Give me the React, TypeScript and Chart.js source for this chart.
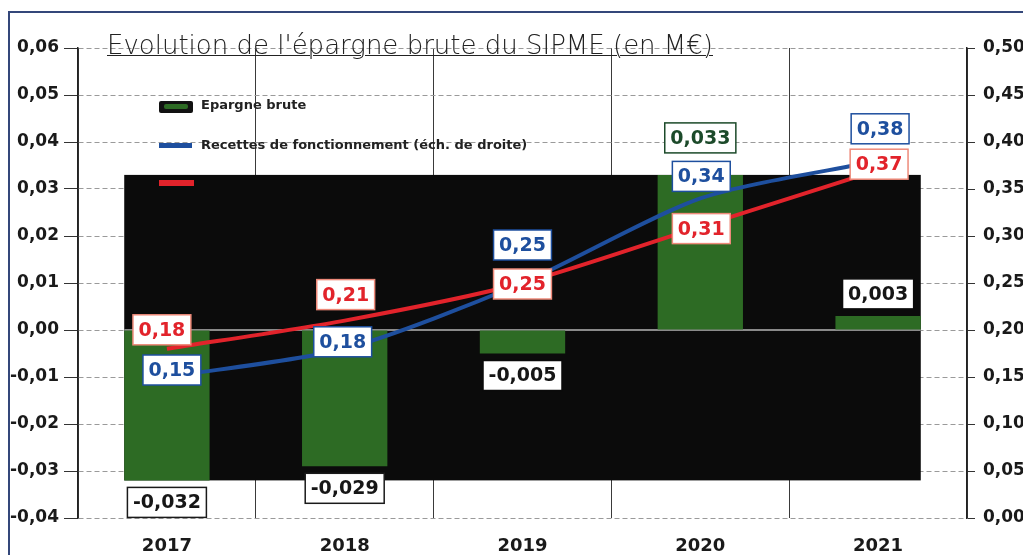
import React, { useEffect, useRef } from 'react';
import { Chart, registerables } from 'chart.js';

Chart.register(...registerables);

// ---- data ----
const years = ['2017', '2018', '2019', '2020', '2021'];
const epargneBrute = [-0.032, -0.029, -0.005, 0.033, 0.003];
const recettesFonctionnement = [0.15, 0.18, 0.25, 0.34, 0.38];
const serieRouge = [0.18, 0.21, 0.25, 0.31, 0.37];

const leftAxis = { min: -0.04, max: 0.06, step: 0.01 };
const rightAxis = { min: 0, max: 0.5, step: 0.05 };

const titleText = "Evolution de l'épargne brute du SIPME (en M€)";
const legendLabels = ['Epargne brute', 'Recettes de fonctionnement (éch. de droite)', ''];

// ---- layout / style of value labels (pixel nudges, not data) ----
const barLabelGap = [7, 7, 7, 22, 7];
const barLabelText = ['#161616', '#161616', '#161616', '#1c4a2a', '#161616'];
const barLabelBorder = ['#1a1a1a', '#1a1a1a', '#0b0b0b', '#1c4a2a', '#0b0b0b'];
const blueLabelShift: [number, number][] = [[5, -7], [-2, -7], [0, -38], [1, -22], [2, -32]];
const redLabelShift: [number, number][] = [[-5, -19], [1, -26], [0, 1], [1, 2], [1, -6]];

const GREEN = '#2d6b24';
const BLUE = '#1e4f9e';
const RED = '#e2232b';
const NUM_FONT = '"DejaVu Sans", Verdana, sans-serif';

const fmt = (v: number, d: number) => v.toFixed(d).replace('.', ',');

function drawValueBox(ctx: CanvasRenderingContext2D, cx: number, cy: number, text: string, color: string, border: string) {
  ctx.save();
  ctx.font = `bold 19px ${NUM_FONT}`;
  const w = ctx.measureText(text).width + 11;
  const h = 30;
  ctx.fillStyle = '#ffffff';
  ctx.fillRect(cx - w / 2, cy - h / 2, w, h);
  ctx.strokeStyle = border;
  ctx.lineWidth = 1.5;
  ctx.strokeRect(cx - w / 2, cy - h / 2, w, h);
  ctx.fillStyle = color;
  ctx.textAlign = 'center';
  ctx.textBaseline = 'middle';
  ctx.fillText(text, cx, cy + 1);
  ctx.restore();
}

const blackBoxPlugin = {
  id: 'blackBox',
  beforeDatasetsDraw(chart: any) {
    const ctx = chart.ctx as CanvasRenderingContext2D;
    const bars = chart.getDatasetMeta(0).data as any[];
    const ys = chart.scales.y;
    const left = Math.min(...bars.map((b) => b.x - b.width / 2));
    const right = Math.max(...bars.map((b) => b.x + b.width / 2));
    const top = ys.getPixelForValue(Math.max(...epargneBrute));
    const bottom = ys.getPixelForValue(Math.min(...epargneBrute));
    ctx.save();
    ctx.fillStyle = '#0b0b0b';
    ctx.fillRect(left, top, right - left, bottom - top);
    const y0 = ys.getPixelForValue(0);
    ctx.strokeStyle = '#8a8a8a';
    ctx.lineWidth = 2;
    ctx.beginPath();
    ctx.moveTo(left, y0);
    ctx.lineTo(right, y0);
    ctx.stroke();
    ctx.restore();
  },
};

const valueLabelPlugin = {
  id: 'valueLabels',
  afterDatasetsDraw(chart: any) {
    const ctx = chart.ctx as CanvasRenderingContext2D;
    const ys = chart.scales.y;
    const bars = chart.getDatasetMeta(0).data as any[];
    bars.forEach((b, i) => {
      const v = epargneBrute[i];
      const py = ys.getPixelForValue(v);
      const cy = v < 0 ? py + barLabelGap[i] + 15 : py - barLabelGap[i] - 15;
      drawValueBox(ctx, b.x, cy, fmt(v, 3), barLabelText[i], barLabelBorder[i]);
    });
    const red = chart.getDatasetMeta(2).data as any[];
    red.forEach((p, i) => {
      drawValueBox(ctx, p.x + redLabelShift[i][0], p.y + redLabelShift[i][1], fmt(serieRouge[i], 2), RED, '#ee8a7a');
    });
    const blue = chart.getDatasetMeta(1).data as any[];
    blue.forEach((p, i) => {
      drawValueBox(ctx, p.x + blueLabelShift[i][0], p.y + blueLabelShift[i][1], fmt(recettesFonctionnement[i], 2), BLUE, BLUE);
    });
  },
};

export default function App() {
  const canvasRef = useRef<HTMLCanvasElement | null>(null);

  useEffect(() => {
    if (!canvasRef.current) return;
    const tickFont = { family: NUM_FONT, weight: 'bold' as const, size: 17 };
    const chart = new Chart(canvasRef.current, {
      type: 'bar',
      data: {
        labels: years,
        datasets: [
          {
            type: 'bar',
            label: legendLabels[0],
            data: epargneBrute,
            yAxisID: 'y',
            backgroundColor: GREEN,
            barPercentage: 0.48,
            categoryPercentage: 1,
            order: 3,
          },
          {
            type: 'line',
            label: legendLabels[1],
            data: recettesFonctionnement,
            yAxisID: 'y1',
            borderColor: BLUE,
            borderWidth: 4,
            pointRadius: 0,
            tension: 0.25,
            order: 1,
          },
          {
            type: 'line',
            label: legendLabels[2],
            data: serieRouge,
            yAxisID: 'y1',
            borderColor: RED,
            borderWidth: 4,
            pointRadius: 0,
            tension: 0.25,
            order: 2,
          },
        ] as any,
      },
      options: {
        animation: false,
        responsive: false,
        devicePixelRatio: 1,
        layout: { padding: { top: 48, left: 0, right: 0, bottom: 0 } },
        plugins: {
          legend: { display: false },
          tooltip: { enabled: false },
          title: { display: false },
        },
        scales: {
          x: {
            grid: { offset: true, color: '#3a3a3a', lineWidth: 1, drawTicks: false },
            border: { display: false },
            ticks: { font: { family: NUM_FONT, weight: 'bold', size: 18 }, color: '#1a1a1a', padding: 18 },
            afterFit: (s: any) => { s.height = 37; },
          },
          y: {
            position: 'left',
            min: leftAxis.min,
            max: leftAxis.max,
            ticks: {
              stepSize: leftAxis.step,
              callback: (v: any) => fmt(Number(v), 2),
              font: tickFont,
              color: '#1a1a1a',
              padding: 5,
            },
            grid: { color: '#9a9a9a', lineWidth: 1, tickLength: 14, tickColor: '#333', tickBorderDash: [] },
            border: { display: true, color: '#222', width: 1.5, dash: [5, 3] },
            afterFit: (s: any) => { s.width = 78; },
          },
          y1: {
            position: 'right',
            min: rightAxis.min,
            max: rightAxis.max,
            ticks: {
              stepSize: rightAxis.step,
              callback: (v: any) => fmt(Number(v), 2),
              font: tickFont,
              color: '#1a1a1a',
              padding: 8,
            },
            grid: { drawOnChartArea: false, tickLength: 8, tickColor: '#333' },
            border: { display: true, color: '#222', width: 1.5 },
            afterFit: (s: any) => { s.width = 56; },
          },
        } as any,
      },
      plugins: [blackBoxPlugin, valueLabelPlugin],
    });
    return () => chart.destroy();
  }, []);

  const legendText: React.CSSProperties = {
    position: 'absolute',
    left: 201,
    font: `bold 13px ${NUM_FONT}`,
    color: '#222',
    whiteSpace: 'nowrap',
    lineHeight: '16px',
  };

  return (
    <div style={{ position: 'absolute', left: 0, top: 0, width: 1023, height: 555, background: '#fff', overflow: 'hidden' }}>
      <canvas ref={canvasRef} width={1023} height={555} style={{ position: 'absolute', left: 0, top: 0 }} />
      <div style={{ position: 'absolute', left: 8, top: 11, width: 1030, height: 560, borderTop: '2px solid #34477a', borderLeft: '2px solid #34477a' }} />
      <div
        style={{
          position: 'absolute',
          left: 107,
          top: 30,
          font: `200 26px "DejaVu Sans ExtraLight", "DejaVu Sans", sans-serif`,
          lineHeight: '30px',
          color: '#222',
          textDecoration: 'underline',
          textDecorationThickness: '1px',
          whiteSpace: 'nowrap',
        }}
      >
        {titleText}
      </div>
      <div style={{ position: 'absolute', left: 159, top: 101, width: 34, height: 12, background: '#111', borderRadius: 2 }}>
        <div style={{ position: 'absolute', left: 5, top: 3, width: 24, height: 5, background: GREEN, borderRadius: 2 }} />
      </div>
      <div style={{ ...legendText, top: 97 }}>{legendLabels[0]}</div>
      <div style={{ position: 'absolute', left: 159, top: 143, width: 33, height: 5, background: BLUE }} />
      <div style={{ ...legendText, top: 137 }}>{legendLabels[1]}</div>
      <div style={{ position: 'absolute', left: 159, top: 180, width: 35, height: 6, background: RED }} />
    </div>
  );
}
